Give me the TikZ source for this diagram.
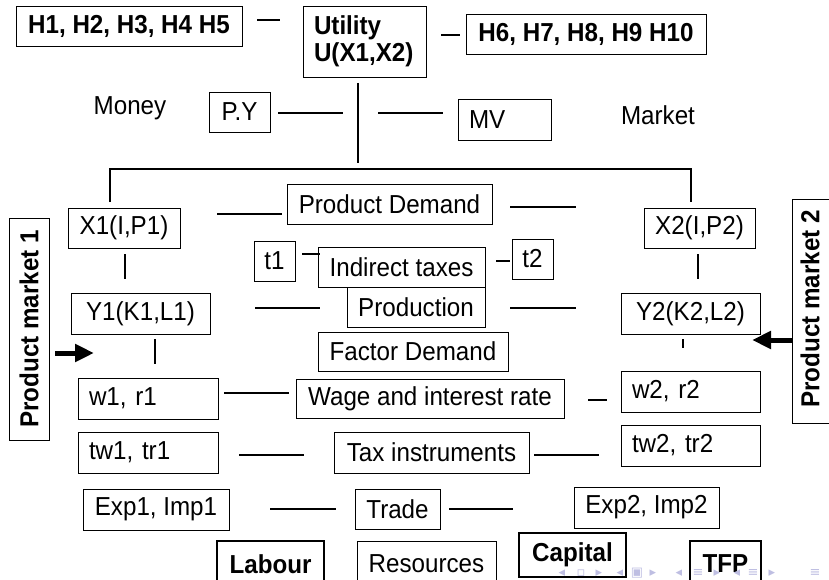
\documentclass[tikz,border=0pt]{standalone}
\usepackage{fontspec}
\setmainfont{Liberation Sans}[FakeStretch=0.93]
\newfontfamily\symfont{DejaVu Sans}
\usetikzlibrary{arrows.meta}
\definecolor{navcol}{RGB}{190,190,226}
\begin{document}
\begin{tikzpicture}[x=1pt,y=-1pt,
  every node/.style={font=\fontsize{26}{28}\selectfont},
  box/.style={draw, line width=0.9pt, inner sep=0pt, align=center},
  lbox/.style={draw, line width=0.9pt, inner ysep=0pt, inner xsep=11pt, align=left},
  bbox/.style={box, font=\fontsize{26}{28}\selectfont\bfseries},
  thickbox/.style={draw, line width=2.6pt, inner sep=0pt, fill=white, font=\fontsize{26}{28}\selectfont\bfseries},
  navsym/.style={font=\symfont\fontsize{13}{13}\selectfont, text=navcol, inner sep=0pt},
  conn/.style={line width=1.4pt},
  bigarrow/.style={line width=5pt, -{Triangle[length=19pt,width=17pt]}}
]
\useasboundingbox (0,0) rectangle (829,580);

% top row
\node[bbox, minimum width=226, minimum height=40] (h15) at (129,26) {H1, H2, H3, H4 H5};
\node[lbox, font=\fontsize{26}{27}\selectfont\bfseries, text width=101, minimum height=71] (util) at (364.5,41.5) {Utility\\U(X1,X2)};
\node[bbox, minimum width=240, minimum height=40] (h610) at (586,34) {H6, H7, H8, H9 H10};

\node (money) at (130,108) {Money};
\node[box, minimum width=61, minimum height=40] (py) at (239.5,112) {P.Y};
\node[lbox, text width=71, minimum height=41] (mv) at (504.5,119.5) {MV};
\node (market) at (658,115) {Market};

% product demand row
\node[box, minimum width=112, minimum height=40] (x1) at (124,228) {X1(I,P1)};
\node[box, minimum width=205, minimum height=40] (pd) at (389.5,204) {Product Demand};
\node[box, minimum width=111, minimum height=40] (x2) at (699.5,228) {X2(I,P2)};

\node[draw, line width=0.9pt, minimum width=40, minimum height=222, inner sep=0pt] (pm1) at (29,329) {};
\node[rotate=90, font=\fontsize{26}{28}\selectfont\bfseries] (pm1t) at (pm1.center) {Product market 1};
\node[draw, line width=0.9pt, minimum width=44, minimum height=224, inner sep=0pt] (pm2) at (814,311) {};
\node[rotate=90, font=\fontsize{26}{28}\selectfont\bfseries] (pm2t) at (810,309) {Product market 2};

\node[box, minimum width=41, minimum height=40] (t1) at (274.5,261) {t1};
\node[box, minimum width=167, minimum height=40] (it) at (401.5,267) {Indirect taxes};
\node[box, minimum width=41, minimum height=40] (t2) at (532.5,259) {t2};

\node[box, minimum width=139, minimum height=41] (y1) at (140.5,313.5) {Y1(K1,L1)};
\node[box, fill=white, minimum width=138, minimum height=40] (prod) at (416,307) {Production};
\node[box, minimum width=139, minimum height=41] (y2) at (690.5,313.5) {Y2(K2,L2)};

\node[box, minimum width=190, minimum height=39] (fd) at (413,351.5) {Factor Demand};

\node[lbox, text width=118, minimum height=41] (w1) at (148,398.5) {w1, r1};
\node[box, minimum width=268, minimum height=39] (wage) at (430,398.5) {Wage and interest rate};
\node[lbox, text width=117, minimum height=41] (w2) at (690.5,391.5) {w2, r2};

\node[lbox, text width=118, minimum height=41] (tw1) at (148,452.5) {tw1, tr1};
\node[box, minimum width=195, minimum height=41] (tax) at (431.5,452.5) {Tax instruments};
\node[lbox, text width=117, minimum height=41] (tw2) at (690.5,445.5) {tw2, tr2};

\node[box, minimum width=146, minimum height=41] (exp1) at (156,509.5) {Exp1, Imp1};
\node[box, minimum width=85, minimum height=40] (trade) at (397.5,509) {Trade};
\node[box, minimum width=145, minimum height=41] (exp2) at (646.5,507.5) {Exp2, Imp2};

\node[thickbox, minimum width=107, minimum height=46] (labour) at (270.5,564) {Labour};
\node[box, minimum width=139, minimum height=46] (res) at (426.5,564) {Resources};
\node[thickbox, minimum width=107, minimum height=44] (capital) at (572.5,555) {Capital};
\node[thickbox, minimum width=71, minimum height=46] (tfp) at (725.5,564) {TFP};

% navigation symbols (faint, drawn on top as in the slide)
\foreach \px/\g [count=\i] in {562/◂,581/▫,599/▸,620/◂,637/▣,653/▸,679/◂,698/≡,717/▸,737/◂,753/≡,772/▸,815/≡}
  \node[navsym] (nav\i) at (\px,573) {\g};

% connector end points
\coordinate (a1) at (257,20);  \coordinate (a2) at (280,20);
\coordinate (b1) at (441,35);  \coordinate (b2) at (460,35);
\coordinate (c1) at (278,113); \coordinate (c2) at (343,113);
\coordinate (d1) at (378,113); \coordinate (d2) at (443,113);
\coordinate (v1) at (358,83);  \coordinate (v2) at (358,163);
\coordinate (k1) at (110,202); \coordinate (k2) at (110,169);
\coordinate (k3) at (691,169); \coordinate (k4) at (691,202);
\coordinate (e1) at (217,214); \coordinate (e2) at (282,214);
\coordinate (f1) at (510,207); \coordinate (f2) at (576,207);
\coordinate (g1) at (302,254); \coordinate (g2) at (320,254);
\coordinate (i1) at (496,261); \coordinate (i2) at (510,261);
\coordinate (j1) at (125,254); \coordinate (j2) at (125,279);
\coordinate (m1) at (698,254); \coordinate (m2) at (698,279);
\coordinate (n1) at (255,308); \coordinate (n2) at (320,308);
\coordinate (o1) at (510,308); \coordinate (o2) at (576,308);
\coordinate (p1) at (155,339); \coordinate (p2) at (155,364);
\coordinate (q1) at (683,339); \coordinate (q2) at (683,348);
\coordinate (r1) at (224,393); \coordinate (r2) at (289,393);
\coordinate (s1) at (588,400); \coordinate (s2) at (607,400);
\coordinate (u1) at (239,455); \coordinate (u2) at (304,455);
\coordinate (u3) at (534,455); \coordinate (u4) at (599,455);
\coordinate (z1) at (270,509); \coordinate (z2) at (336,509);
\coordinate (z3) at (449,509); \coordinate (z4) at (513,509);
\coordinate (arL1) at (55,353); \coordinate (arL2) at (94,353);
\coordinate (arR2) at (752,340);

\draw[conn] (a1) -- (a2);
\draw[conn] (b1) -- (b2);
\draw[conn] (c1) -- (c2);
\draw[conn] (d1) -- (d2);
\draw[conn] (v1) -- (v2);
\draw[conn] (k1) -- (k2) -- (k3) -- (k4);
\draw[conn] (e1) -- (e2);
\draw[conn] (f1) -- (f2);
\draw[conn] (g1) -- (g2);
\draw[conn] (i1) -- (i2);
\draw[conn] (j1) -- (j2);
\draw[conn] (m1) -- (m2);
\draw[conn] (n1) -- (n2);
\draw[conn] (o1) -- (o2);
\draw[conn] (p1) -- (p2);
\draw[conn] (q1) -- (q2);
\draw[conn] (r1) -- (r2);
\draw[conn] (s1) -- (s2);
\draw[conn] (u1) -- (u2);
\draw[conn] (u3) -- (u4);
\draw[conn] (z1) -- (z2);
\draw[conn] (z3) -- (z4);
\draw[bigarrow] (arL1) -- (arL2);
\draw[bigarrow] (pm2.west |- arR2) -- (arR2);
\end{tikzpicture}
\end{document}
